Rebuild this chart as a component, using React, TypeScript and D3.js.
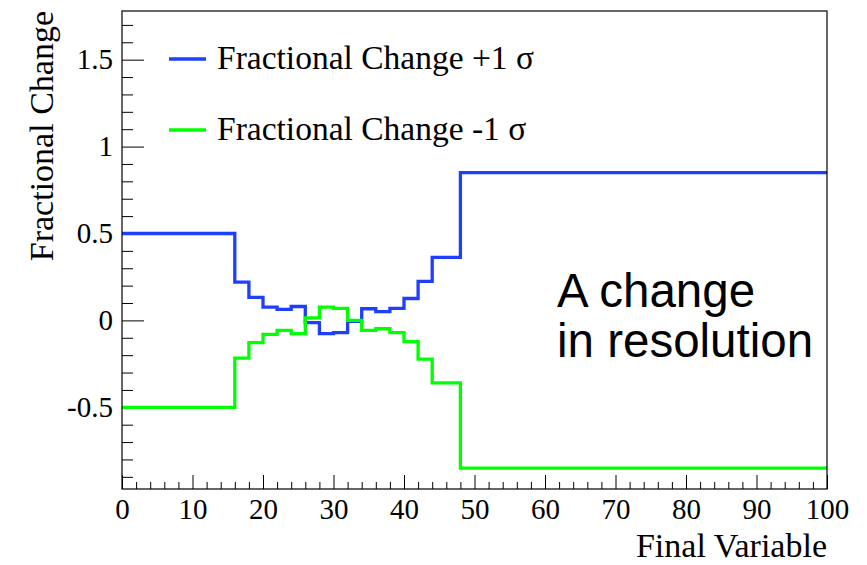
import React, { useEffect, useRef } from "react";
import * as d3 from "d3";

// bin edges of the histogram (variable width)
const binEdges = [0, 16, 18, 20, 22, 24, 26, 28, 30, 32, 34, 36, 38, 40, 42, 44, 48, 100];
// fractional change for +1 sigma, one per bin
const plusSigma = [0.5, 0.22, 0.133, 0.076, 0.063, 0.08, -0.013, -0.076, -0.07, -0.005, 0.067, 0.05, 0.069, 0.126, 0.225, 0.362, 0.85];
// fractional change for -1 sigma, one per bin
const minusSigma = [-0.5, -0.217, -0.128, -0.08, -0.057, -0.076, 0.015, 0.076, 0.069, 0.0, -0.057, -0.048, -0.07, -0.122, -0.223, -0.36, -0.85];

const xMajorTicks = [0, 10, 20, 30, 40, 50, 60, 70, 80, 90, 100];
const yMajorTicks = [-0.5, 0, 0.5, 1, 1.5];

const legendItems = [
  { label: "Fractional Change +1 σ", color: "#1f3fff" },
  { label: "Fractional Change -1 σ", color: "#00ff00" },
];

const W = 867;
const H = 565;

export default function App() {
  const svgRef = useRef<SVGSVGElement>(null);

  useEffect(() => {
    if (!svgRef.current) return;
    const root = d3.select(svgRef.current);
    root.selectAll("*").remove();

    const margin = { top: 11, right: 40, bottom: 76, left: 122 };
    const width = W - margin.left - margin.right;
    const height = H - margin.top - margin.bottom;
    const serif = "'Liberation Serif', 'Times New Roman', serif";

    root.append("rect").attr("width", W).attr("height", H).attr("fill", "#fff");

    const g = root.append("g").attr("transform", `translate(${margin.left},${margin.top})`);

    const x = d3.scaleLinear().domain([0, 100]).range([0, width]);
    const y = d3.scaleLinear().domain([-0.97, 1.78]).range([height, 0]);

    // minor ticks
    const xMinor = d3.range(0, 101, 2).filter(v => v % 10 !== 0);
    g.append("g")
      .attr("transform", `translate(0,${height})`)
      .call(d3.axisBottom(x).tickValues(xMinor).tickSizeInner(-7).tickSizeOuter(0).tickFormat(() => ""))
      .call(a => a.select(".domain").remove())
      .selectAll("line").attr("stroke", "#000");

    const yMinor = d3.range(-9, 18).map(v => v / 10).filter(v => Math.round(v * 10) % 5 !== 0);
    g.append("g")
      .call(d3.axisLeft(y).tickValues(yMinor).tickSizeInner(-11).tickSizeOuter(0).tickFormat(() => ""))
      .call(a => a.select(".domain").remove())
      .selectAll("line").attr("stroke", "#000");

    // major ticks + labels
    g.append("g")
      .attr("transform", `translate(0,${height})`)
      .call(d3.axisBottom(x).tickValues(xMajorTicks).tickSizeInner(-14).tickSizeOuter(0).tickPadding(9).tickFormat(d => String(d)))
      .call(a => a.select(".domain").remove())
      .call(a => a.selectAll("line").attr("stroke", "#000"))
      .selectAll("text")
      .attr("fill", "#000")
      .style("font-family", serif)
      .style("font-size", "29px")
      .attr("dy", "0.71em");

    g.append("g")
      .call(d3.axisLeft(y).tickValues(yMajorTicks).tickSizeInner(-22).tickSizeOuter(0).tickPadding(9).tickFormat(d => String(d)))
      .call(a => a.select(".domain").remove())
      .call(a => a.selectAll("line").attr("stroke", "#000"))
      .selectAll("text")
      .attr("fill", "#000")
      .style("font-family", serif)
      .style("font-size", "29px");

    // histogram step lines
    const stepLine = d3.line<[number, number]>()
      .x(d => x(d[0]))
      .y(d => y(d[1]))
      .curve(d3.curveStepAfter);

    const toPoints = (vals: number[]): [number, number][] => {
      const pts: [number, number][] = vals.map((v, i) => [binEdges[i], v]);
      pts.push([binEdges[binEdges.length - 1], vals[vals.length - 1]]);
      return pts;
    };

    [plusSigma, minusSigma].forEach((vals, i) => {
      g.append("path")
        .datum(toPoints(vals))
        .attr("fill", "none")
        .attr("stroke", legendItems[i].color)
        .attr("stroke-width", 3.3)
        .attr("stroke-linejoin", "miter")
        .attr("d", stepLine);
    });

    // frame
    g.append("rect")
      .attr("width", width)
      .attr("height", height)
      .attr("fill", "none")
      .attr("stroke", "#000")
      .attr("stroke-width", 1.2);

    // legend
    const legend = root.append("g");
    legendItems.forEach((item, i) => {
      const ly = 59 + i * 71;
      legend.append("line")
        .attr("x1", 169).attr("x2", 206)
        .attr("y1", ly).attr("y2", ly)
        .attr("stroke", item.color).attr("stroke-width", 3.3);
      legend.append("text")
        .attr("x", 217).attr("y", ly + 10)
        .attr("fill", "#000")
        .style("font-family", serif)
        .style("font-size", "33.5px")
        .text(item.label);
    });

    // axis titles
    root.append("text")
      .attr("x", margin.left + width).attr("y", 557)
      .attr("text-anchor", "end")
      .style("font-family", serif)
      .style("font-size", "34px")
      .text("Final Variable");

    root.append("text")
      .attr("transform", `translate(53,${margin.top}) rotate(-90)`)
      .attr("text-anchor", "end")
      .style("font-family", serif)
      .style("font-size", "34px")
      .text("Fractional Change");

    // annotation
    const note = root.append("text")
      .style("font-family", "'Liberation Sans', Arial, sans-serif")
      .style("font-size", "47.5px")
      .attr("fill", "#000");
    note.append("tspan").attr("x", 557).attr("y", 307).text("A change");
    note.append("tspan").attr("x", 557).attr("y", 357).text("in resolution");
  }, []);

  return (
    <svg
      ref={svgRef}
      width={W}
      height={H}
      style={{ position: "absolute", left: 0, top: 0, display: "block" }}
    />
  );
}
